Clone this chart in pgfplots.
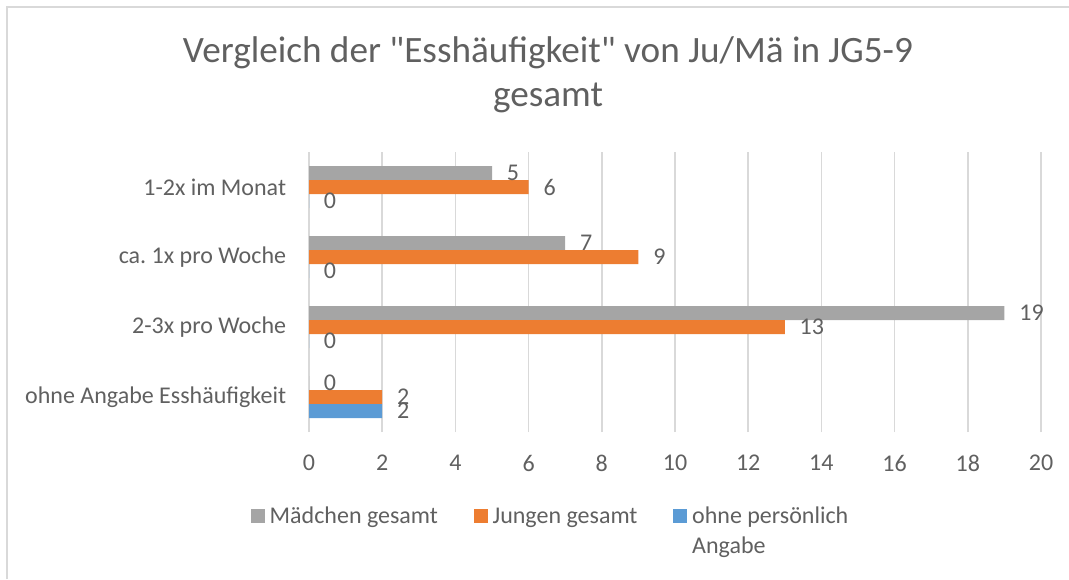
\documentclass[border=0pt]{standalone}
\usepackage{fontspec}
\setmainfont{Carlito}[Ligatures=TeXOff]
\usepackage{pgfplots}
\pgfplotsset{compat=1.18}
\definecolor{txt}{HTML}{606060}
\definecolor{grd}{HTML}{D9D9D9}
\definecolor{cgrey}{HTML}{A5A5A5}
\definecolor{corange}{HTML}{ED7D31}
\definecolor{cblue}{HTML}{5B9BD5}
\newcommand\lab{\fontsize{18pt}{22.5pt}\selectfont}
\newcommand\ttl{\fontsize{27.9pt}{33pt}\selectfont}
\begin{document}
\begin{tikzpicture}
\path[use as bounding box] (0pt,0pt) rectangle (801.75pt,434.25pt);
\draw[grd, line width=1.1pt] (5.25pt,0pt) -- (5.25pt,429pt) -- (801.75pt,429pt);
\node[anchor=base, text=txt, font=\ttl, inner sep=0pt] at (411pt,387pt) {Vergleich der "Esshäufigkeit" von Ju/Mä in JG5-9};
\node[anchor=base, text=txt, font=\ttl, inner sep=0pt] at (411pt,354pt) {gesamt};
\begin{axis}[
  at={(231.75pt,110.25pt)}, anchor=south west,
  scale only axis, width=549pt, height=210pt,
  xbar, bar width=10.5pt,
  xmin=0, xmax=20, ymin=-0.5, ymax=3.5,
  xtick={0,2,...,20}, ytick={0,1,2,3},
  yticklabels={ohne Angabe Esshäufigkeit, 2-3x pro Woche, {ca.\ 1x pro Woche}, 1-2x im Monat},
  xmajorgrids, grid style={grd, line width=1.1pt},
  axis line style={draw=none},
  major tick length=0pt,
  tick label style={font=\lab, text=txt, inner sep=0pt},
  xticklabel style={yshift=-17pt},
  yticklabel style={xshift=-17pt},
  /pgf/number format/assume math mode=true,
  nodes near coords,
  every node near coord/.append style={font=\lab, text=txt, inner sep=0pt, xshift=11pt},
  clip=false,
  legend style={at={(-0.0792,-0.25)}, anchor=north west, draw=none, fill=none,
    inner sep=0pt, outer sep=0pt, font=\lab, text=txt, legend columns=3,
    cells={anchor=base west}, nodes={inner sep=0pt},
    /tikz/every odd column/.append style={column sep=3.5pt},
    /tikz/every even column/.append style={column sep=27pt}},
  legend image code/.code={\fill[#1] (0pt,0pt) rectangle (10.5pt,10.5pt);},
]
\addplot[fill=cgrey, draw=none, bar shift=10.5pt] coordinates {(0,0) (19,1) (7,2) (5,3)};
\addplot[fill=corange, draw=none, bar shift=0pt] coordinates {(2,0) (13,1) (9,2) (6,3)};
\addplot[fill=cblue, draw=none, bar shift=-10.5pt] coordinates {(2,0) (0,1) (0,2) (0,3)};
\legend{Mädchen gesamt, Jungen gesamt, {\begin{tabular}[t]{@{}l@{}}ohne persönlich\\Angabe\end{tabular}}}
\end{axis}
\end{tikzpicture}
\end{document}
